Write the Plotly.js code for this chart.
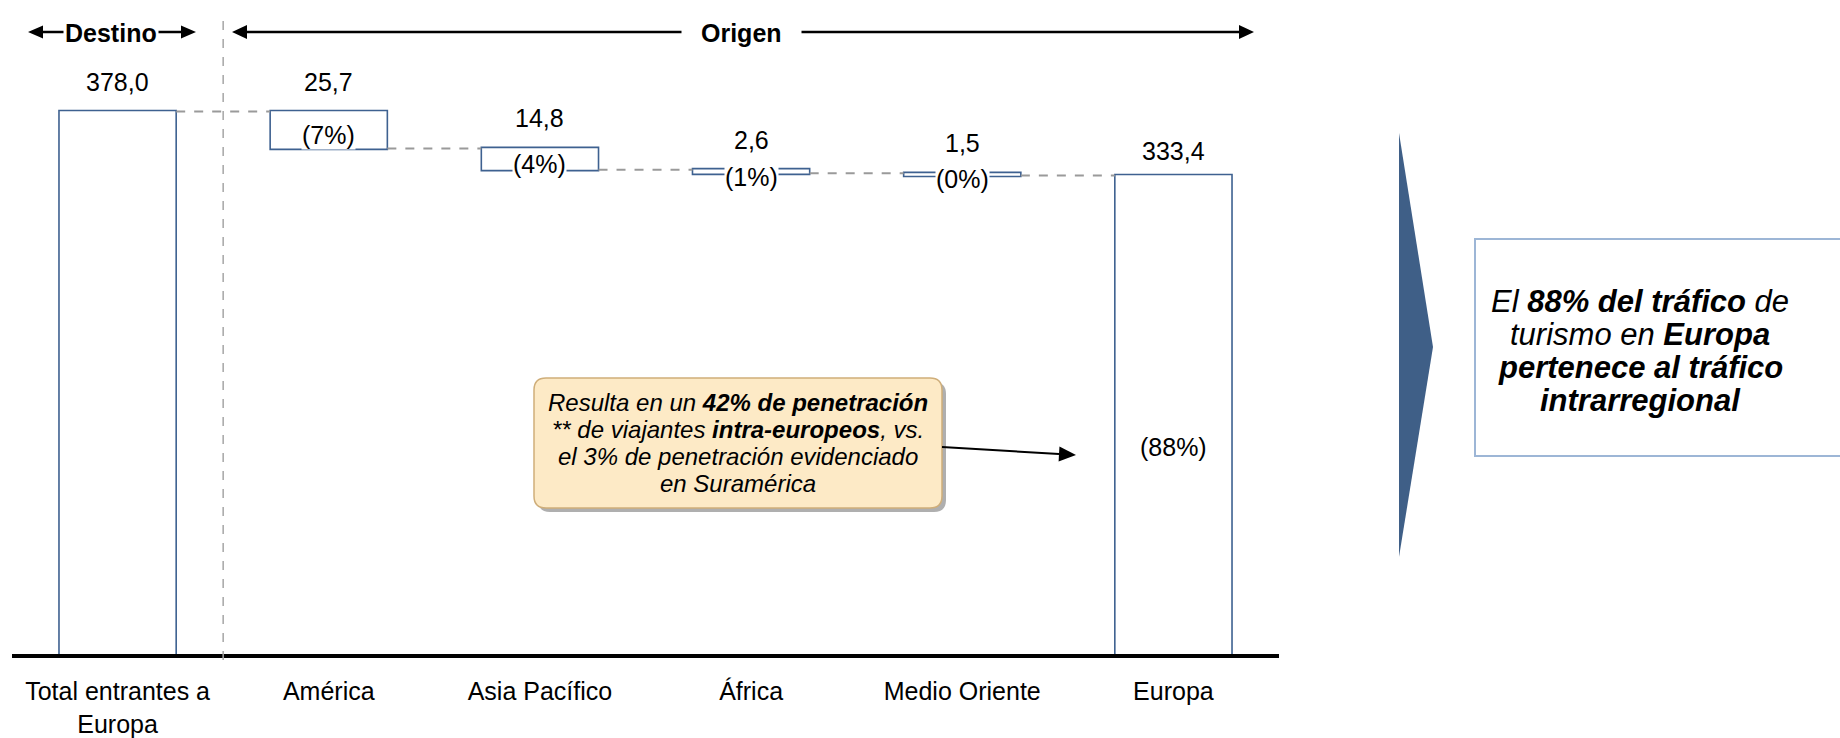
<!DOCTYPE html>
<html><head><meta charset="utf-8">
<script src="https://cdn.plot.ly/plotly-3.0.1.min.js"></script>
<style>html,body{margin:0;padding:0;background:#fff;overflow:hidden;} #chart{width:1840px;height:738px;}</style>
</head><body><div id="chart"></div>
<script>
// ---------------- data ----------------
const categories = ['Total entrantes a<br>Europa', 'América', 'Asia Pacífico', 'África', 'Medio Oriente', 'Europa'];
const measures = ['absolute', 'relative', 'relative', 'relative', 'relative', 'total'];
const values = [378.0, -25.7, -14.8, -2.6, -1.5, 333.4];
const groupLabels = ['Destino', 'Origen'];
const calloutLines = [
  '<i>Resulta en un <b>42% de penetración</b></i>',
  '<i>** de viajantes <b>intra-europeos</b>, vs.</i>',
  '<i>el 3% de penetración evidenciado</i>',
  '<i>en Suramérica</i>'
];
const conclusionLines = [
  '<i>El <b>88% del tráfico</b> de</i>',
  '<i>turismo en <b>Europa</b></i>',
  '<i><b>pertenece al tráfico</b></i>',
  '<i><b>intrarregional</b></i>'
];

// ---------------- layout constants ----------------
const W = 1840, H = 738;
const M = {l: 12, r: 561, t: 0, b: 84};
const plotW = W - M.l - M.r, plotH = H - M.t - M.b;
const yMax = 455.7;
const FONT = 'Liberation Sans, Arial, sans-serif';
const BLUE = '#3E6190';
const px2p = px => (px - M.l) / plotW;
const py2p = py => (M.t + plotH - py) / plotH;

// running totals -> bar extents
let run = 0;
const tops = [], bottoms = [];
values.forEach((v, i) => {
  if (measures[i] === 'absolute') { bottoms.push(0); tops.push(v); run = v; }
  else if (measures[i] === 'relative') { const s = run, e = run + v; tops.push(Math.max(s, e)); bottoms.push(Math.min(s, e)); run = e; }
  else { bottoms.push(0); tops.push(run); }
});
const fmt = v => v.toFixed(1).replace('.', ',');

const annotations = [];
const txt = (o) => Object.assign({showarrow: false, xanchor: 'center', yanchor: 'middle'}, o);
// value labels above bars
tops.forEach((t, i) => {
  const shown = measures[i] === 'relative' ? Math.abs(values[i]) : t;
  annotations.push(txt({xref: 'x', yref: 'y', x: i, y: t, yshift: measures[i] === 'total' ? 25 : 30,
    text: fmt(shown), font: {family: FONT, size: 25, color: '#000'}}));
});
// percentage labels
for (let i = 1; i < values.length; i++) {
  const h = tops[i] - bottoms[i];
  const pct = Math.round(h / values[0] * 100);
  const mid = (tops[i] + bottoms[i]) / 2;
  const ys = measures[i] === 'total' ? -32 : -5;
  annotations.push(txt({xref: 'x', yref: 'y', x: i, y: mid, yshift: ys,
    text: '(' + pct + '%)', bgcolor: '#fff', borderpad: 0,
    font: {family: FONT, size: 25, color: '#000'}}));
}

const shapes = [];
function arrow(x0, y0, x1, y1, both, hl, hh, w) {
  const dx = x1 - x0, dy = y1 - y0, L = Math.hypot(dx, dy);
  const ux = dx / L, uy = dy / L, nx = -uy, ny = ux;
  const sx = both ? x0 + ux * hl : x0, sy = both ? y0 + uy * hl : y0;
  shapes.push({type: 'line', xref: 'paper', yref: 'paper', x0: px2p(sx), y0: py2p(sy),
    x1: px2p(x1 - ux * hl), y1: py2p(y1 - uy * hl), line: {color: '#000', width: w}});
  const tri = (tx, ty, vx, vy) => {
    const bx = tx - vx * hl, by = ty - vy * hl;
    return 'M' + px2p(tx) + ',' + py2p(ty) + ' L' + px2p(bx + nx * hh) + ',' + py2p(by + ny * hh) +
      ' L' + px2p(bx - nx * hh) + ',' + py2p(by - ny * hh) + ' Z';
  };
  shapes.push({type: 'path', xref: 'paper', yref: 'paper', path: tri(x1, y1, ux, uy), fillcolor: '#000', line: {width: 0}});
  if (both) shapes.push({type: 'path', xref: 'paper', yref: 'paper', path: tri(x0, y0, -ux, -uy), fillcolor: '#000', line: {width: 0}});
}
// header arrows
arrow(28, 32, 196, 32, true, 15, 6.5, 2.5);
arrow(232, 32, 1254, 32, true, 15, 7, 2.5);
annotations.push(txt({xref: 'paper', yref: 'paper', x: px2p(111), y: py2p(33), text: '<b>' + groupLabels[0] + '</b>',
  bgcolor: '#fff', borderpad: 1, font: {family: FONT, size: 25, color: '#000'}}));
annotations.push(txt({xref: 'paper', yref: 'paper', x: px2p(741), y: py2p(33), text: '<b>' + groupLabels[1] + '</b>',
  bgcolor: '#fff', borderpad: 19, font: {family: FONT, size: 25, color: '#000'}}));

// vertical dashed separator between destination and origins
shapes.push({type: 'line', xref: 'paper', yref: 'paper', x0: 1 / 6, x1: 1 / 6, y0: py2p(660), y1: py2p(13),
  line: {color: '#A6A6A6', width: 1.5, dash: 'dash'}});

// rounded callout box
function rrect(x0, y0, x1, y1, r) {
  const P = (x, y) => px2p(x) + ',' + py2p(y);
  return 'M' + P(x0 + r, y0) + ' L' + P(x1 - r, y0) + ' Q' + P(x1, y0) + ' ' + P(x1, y0 + r) +
    ' L' + P(x1, y1 - r) + ' Q' + P(x1, y1) + ' ' + P(x1 - r, y1) +
    ' L' + P(x0 + r, y1) + ' Q' + P(x0, y1) + ' ' + P(x0, y1 - r) +
    ' L' + P(x0, y0 + r) + ' Q' + P(x0, y0) + ' ' + P(x0 + r, y0) + ' Z';
}
shapes.push({type: 'path', xref: 'paper', yref: 'paper', path: rrect(538, 382, 946, 512, 12),
  fillcolor: 'rgba(110,110,110,0.55)', line: {width: 0}});
shapes.push({type: 'path', xref: 'paper', yref: 'paper', path: rrect(534, 378, 942, 508, 12),
  fillcolor: '#FDEAC6', line: {color: '#CFAE7A', width: 1.5}});
calloutLines.forEach((t, j) => {
  annotations.push(txt({xref: 'paper', yref: 'paper', x: px2p(738), y: py2p(402.5 + 27 * j),
    text: t, font: {family: FONT, size: 24, color: '#000'}}));
});
arrow(942, 447, 1076, 455, false, 17, 7.5, 2);

// right side chevron and conclusion box (box runs off the right edge)
shapes.push({type: 'path', xref: 'paper', yref: 'paper',
  path: 'M' + px2p(1399) + ',' + py2p(133) + ' L' + px2p(1433) + ',' + py2p(347) + ' L' + px2p(1399) + ',' + py2p(557) + ' Z',
  fillcolor: '#3F5F87', line: {width: 0}});
shapes.push({type: 'rect', xref: 'paper', yref: 'paper', x0: px2p(1475), x1: px2p(1848), y0: py2p(239), y1: py2p(456),
  fillcolor: '#fff', line: {color: '#9DB6D6', width: 2}});
conclusionLines.forEach((t, j) => {
  annotations.push(txt({xref: 'paper', yref: 'paper', x: px2p(1640), y: py2p(301.6 + 33 * j),
    text: t, font: {family: FONT, size: 31, color: '#000'}}));
});

const barStyle = {marker: {color: '#fff', line: {color: BLUE, width: 1.6}}};
const trace = {
  type: 'waterfall', x: categories.map((c, i) => i), y: values, measure: measures,
  width: 0.555, textinfo: 'none', hoverinfo: 'skip',
  decreasing: barStyle, increasing: barStyle, totals: barStyle,
  connector: {mode: 'between', line: {color: '#9A9A9A', width: 2, dash: 'dash'}}
};

const layout = {
  width: W, height: H, margin: M, paper_bgcolor: '#fff', plot_bgcolor: '#fff', showlegend: false,
  xaxis: {type: 'linear', range: [-0.5, 5.5], tickmode: 'array', tickvals: categories.map((c, i) => i), ticktext: categories,
    showline: true, linecolor: '#000', linewidth: 4, ticks: '', showgrid: false, zeroline: false,
    ticklabelstandoff: 12, tickfont: {family: FONT, size: 25, color: '#000'}, fixedrange: true},
  yaxis: {range: [0, yMax], visible: false, showgrid: false, zeroline: false, fixedrange: true},
  annotations: annotations, shapes: shapes
};
Plotly.newPlot('chart', [trace], layout, {displayModeBar: false, staticPlot: true});
</script></body></html>
